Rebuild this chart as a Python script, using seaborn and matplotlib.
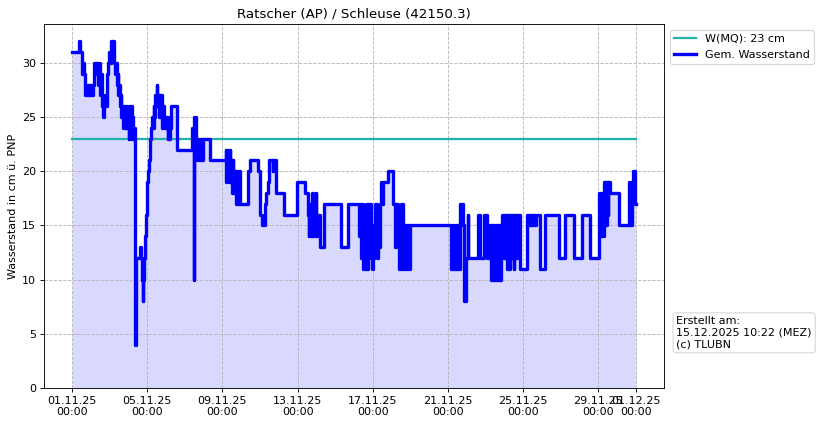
import matplotlib
matplotlib.use("Agg")
import matplotlib.pyplot as plt
import matplotlib.dates as mdates
import pandas as pd
import seaborn as sns

# ---- Daten ----
start = pd.Timestamp("2025-11-01 00:00")
mq_level = 23  # W(MQ) in cm

# Stunden seit 01.11.25 00:00 und gemessener Wasserstand (Stufen)
hours = [
    0, 9, 10, 12, 13, 14, 15, 16, 17, 18, 19, 20, 21, 22, 23, 24, 25, 26, 28, 30,
    31, 33, 34, 36, 37, 38, 39, 40, 41, 42, 43, 44, 45, 46, 47, 48, 49, 53, 54, 55,
    56, 57, 58, 59, 60, 61, 62, 63, 64, 65, 66, 67, 68, 69, 70, 71, 72, 73, 74, 75,
    76, 77, 78, 79, 80, 81, 87, 88, 89, 90, 91, 92, 93, 94, 95, 96, 97, 98, 99, 100,
    101, 102, 103, 104, 105, 106, 107, 108, 109, 110, 111, 112, 113, 114, 115, 116, 117, 118, 119, 120,
    121, 122, 123, 124, 125, 126, 134, 153, 155, 156, 158, 159, 160, 161, 162, 163, 164, 165, 166, 167,
    176, 196, 197, 198, 199, 200, 201, 202, 203, 204, 205, 206, 207, 208, 209, 210, 211, 212, 213, 214,
    215, 224, 225, 227, 237, 240, 242, 246, 248, 250, 252, 256, 257, 261, 271, 287, 297, 301, 302, 303,
    304, 305, 306, 307, 308, 309, 310, 311, 312, 313, 314, 316, 322, 344, 352, 367, 368, 369, 370, 371,
    372, 373, 374, 375, 376, 377, 378, 379, 380, 381, 382, 383, 384, 385, 387, 389, 390, 391, 393, 395,
    396, 397, 404, 410, 412, 414, 416, 418, 420, 422, 424, 426, 428, 430, 431, 484, 486, 488, 490, 491,
    493, 494, 496, 499, 500, 501, 503, 505, 506, 519, 521, 526, 530, 534, 535, 536, 537, 538, 539, 540,
    541, 542, 543, 544, 545, 546, 547, 548, 549, 550, 551, 552, 553, 554, 555, 556, 557, 558, 559, 560,
    561, 562, 563, 564, 565, 567, 568, 570, 571, 572, 581, 583, 584, 585, 586, 587, 588, 589, 590, 591,
    592, 598, 604, 622, 630, 641, 651, 662, 673, 674, 675, 676, 677, 678, 679, 680, 681, 682, 683, 684,
    685, 687, 698, 711, 712, 713, 714, 715, 716, 719, 720,
]
levels = [
    31, 32, 31, 30, 29, 30, 29, 28, 27, 28, 27, 28, 27, 28, 27, 28, 27, 28, 30, 29,
    30, 28, 30, 27, 29, 26, 27, 25, 26, 27, 26, 28, 29, 30, 31, 30, 32, 31, 30, 29,
    30, 28, 29, 27, 28, 26, 27, 25, 26, 24, 26, 25, 24, 26, 24, 25, 23, 26, 24, 26,
    23, 25, 23, 24, 4, 12, 13, 12, 10, 8, 10, 12, 14, 16, 17, 19, 20, 21, 22, 23,
    24, 25, 24, 26, 25, 27, 26, 28, 26, 27, 25, 27, 26, 27, 24, 26, 25, 24, 25, 24,
    25, 23, 24, 23, 24, 26, 22, 24, 10, 25, 23, 21, 23, 22, 21, 23, 21, 22, 21, 23,
    21, 22, 19, 22, 20, 19, 22, 19, 21, 18, 21, 19, 18, 20, 17, 20, 18, 17, 20, 18,
    17, 18, 20, 21, 20, 16, 15, 17, 18, 19, 21, 20, 21, 18, 16, 19, 18, 16, 14, 17,
    15, 14, 18, 14, 16, 15, 14, 18, 15, 14, 16, 13, 17, 13, 17, 14, 17, 12, 17, 13,
    11, 12, 11, 17, 12, 11, 17, 15, 14, 17, 12, 11, 12, 15, 17, 13, 12, 13, 17, 19,
    17, 19, 20, 17, 13, 17, 13, 11, 17, 11, 15, 11, 15, 11, 15, 11, 15, 11, 15, 11,
    15, 11, 17, 15, 12, 8, 12, 16, 12, 16, 12, 16, 12, 15, 10, 15, 10, 15, 10, 14,
    10, 15, 10, 15, 10, 15, 10, 15, 16, 12, 16, 12, 16, 12, 16, 11, 16, 11, 16, 12,
    16, 12, 16, 11, 16, 12, 16, 12, 16, 11, 16, 15, 16, 15, 16, 15, 16, 15, 16, 15,
    16, 11, 16, 12, 16, 12, 16, 12, 18, 14, 18, 14, 16, 14, 19, 15, 19, 15, 19, 16,
    19, 18, 15, 19, 15, 18, 15, 19, 20, 17, 17,
]

df = pd.DataFrame({
    "zeit": start + pd.to_timedelta(hours, unit="h"),
    "wasserstand": levels,
})
mq_df = pd.DataFrame({
    "zeit": [df["zeit"].iloc[0], df["zeit"].iloc[-1]],
    "w": [mq_level, mq_level],
})

# ---- Plot ----
fig, ax = plt.subplots(figsize=(822 / 80, 426 / 80), dpi=80)
fig.subplots_adjust(left=0.0535, right=0.8078, bottom=0.0892, top=0.9437)

sns.lineplot(data=mq_df, x="zeit", y="w", color="lightseagreen", lw=2,
             label=f"W(MQ): {mq_level} cm", ax=ax)
sns.lineplot(data=df, x="zeit", y="wasserstand", color="blue", lw=3,
             drawstyle="steps-post", estimator=None, sort=False,
             label="Gem. Wasserstand", ax=ax)
ax.fill_between(df["zeit"], df["wasserstand"], step="post",
                color="blue", alpha=0.15, lw=0)

ax.xaxis.set_major_locator(mdates.DayLocator(bymonthday=[1, 5, 9, 13, 17, 21, 25, 29]))
ax.xaxis.set_major_formatter(mdates.DateFormatter("%d.%m.%y\n%H:%M"))
ax.set_ylim(0, 33.6)
ax.set_yticks(range(0, 31, 5))
ax.tick_params(labelsize=10)

ax.grid(True, linestyle="--", color="0.72", lw=0.8)
ax.set_xlabel("")
ax.set_ylabel("Wasserstand in cm ü. PNP", fontsize=10)
ax.set_title("Ratscher (AP) / Schleuse (42150.3)", fontsize=12)

ax.legend(loc="upper left", bbox_to_anchor=(1.0, 1.0), fontsize=10)
ax.text(1.02, 0.106, "Erstellt am:\n15.12.2025 10:22 (MEZ)\n(c) TLUBN",
        transform=ax.transAxes, ha="left", va="bottom", fontsize=10,
        bbox=dict(boxstyle="round", facecolor="white", edgecolor="0.8", alpha=0.8))

fig.savefig("out.png", dpi=80)
